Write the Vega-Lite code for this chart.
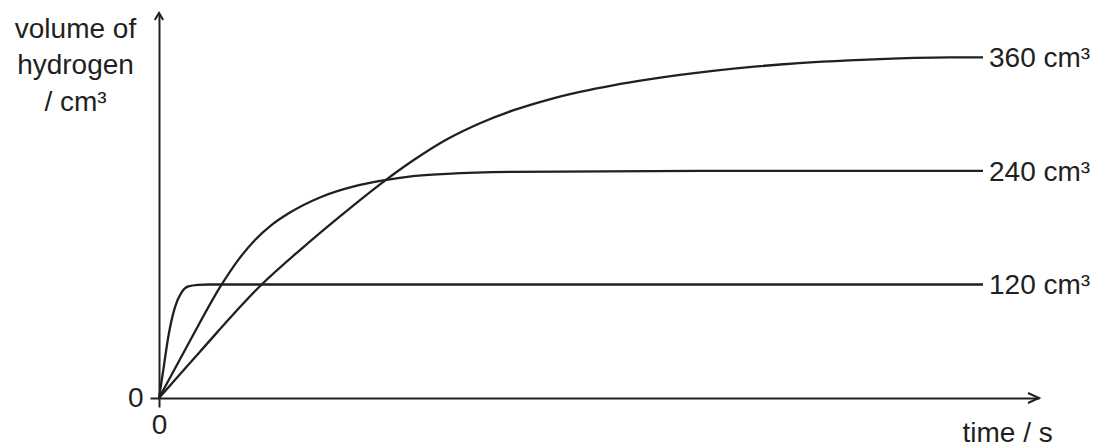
{
  "$schema": "https://vega.github.io/schema/vega-lite/v6.json",
  "description": "Volume of hydrogen against time for three reactions",
  "width": 880,
  "height": 385,
  "autosize": {"type": "none"},
  "padding": {"left": 159, "top": 13, "right": 61, "bottom": 49},
  "config": {
    "view": {"stroke": null},
    "font": "Liberation Sans",
    "axis": {
      "grid": false,
      "domainColor": "#231f20",
      "domainWidth": 2,
      "tickColor": "#231f20",
      "tickWidth": 2,
      "tickSize": 9,
      "labelColor": "#231f20",
      "labelFontSize": 28,
      "labelFont": "Liberation Sans",
      "labelFlush": false,
      "titleColor": "#231f20",
      "titleFontSize": 28,
      "titleFont": "Liberation Sans",
      "titleFontWeight": "normal"
    }
  },
  "datasets": {
    "curves": [
      {"series": "120", "t": 0, "v": 0},
      {"series": "120", "t": 4.3, "v": 29.6},
      {"series": "120", "t": 9.3, "v": 64.8},
      {"series": "120", "t": 16, "v": 96},
      {"series": "120", "t": 22.7, "v": 112},
      {"series": "120", "t": 29.3, "v": 118},
      {"series": "120", "t": 39.3, "v": 119.6},
      {"series": "120", "t": 50, "v": 120},
      {"series": "120", "t": 824, "v": 120},
      {"series": "240", "t": 0, "v": 0},
      {"series": "240", "t": 31, "v": 60.5},
      {"series": "240", "t": 62.7, "v": 120},
      {"series": "240", "t": 79.3, "v": 146},
      {"series": "240", "t": 96, "v": 167},
      {"series": "240", "t": 112.7, "v": 183},
      {"series": "240", "t": 129.3, "v": 195},
      {"series": "240", "t": 162.7, "v": 212.8},
      {"series": "240", "t": 196, "v": 224},
      {"series": "240", "t": 222.7, "v": 229.7},
      {"series": "240", "t": 254, "v": 234.5},
      {"series": "240", "t": 288, "v": 237},
      {"series": "240", "t": 354, "v": 239},
      {"series": "240", "t": 541, "v": 240},
      {"series": "240", "t": 824, "v": 240},
      {"series": "360", "t": 0, "v": 0},
      {"series": "360", "t": 41, "v": 49},
      {"series": "360", "t": 102.7, "v": 120},
      {"series": "360", "t": 141, "v": 156.4},
      {"series": "360", "t": 181, "v": 192},
      {"series": "360", "t": 226, "v": 229.8},
      {"series": "360", "t": 254, "v": 251},
      {"series": "360", "t": 288, "v": 273.5},
      {"series": "360", "t": 321, "v": 290.5},
      {"series": "360", "t": 354, "v": 304},
      {"series": "360", "t": 388, "v": 315},
      {"series": "360", "t": 421, "v": 323.5},
      {"series": "360", "t": 454, "v": 330.5},
      {"series": "360", "t": 488, "v": 336.5},
      {"series": "360", "t": 521, "v": 341.5},
      {"series": "360", "t": 554, "v": 345.8},
      {"series": "360", "t": 598, "v": 350.5},
      {"series": "360", "t": 640, "v": 354},
      {"series": "360", "t": 690, "v": 357},
      {"series": "360", "t": 740, "v": 359},
      {"series": "360", "t": 790, "v": 360},
      {"series": "360", "t": 824, "v": 360}
    ],
    "labels": [
      {"label": "120 cm³", "t": 824, "v": 120},
      {"label": "240 cm³", "t": 824, "v": 240},
      {"label": "360 cm³", "t": 824, "v": 360}
    ],
    "arrows": [
      {"axis": "y", "t": 0, "v": 407},
      {"axis": "x", "t": 880, "v": 0}
    ]
  },
  "layer": [
    {
      "data": {"name": "curves"},
      "mark": {"type": "line", "interpolate": "monotone", "color": "#231f20", "strokeWidth": 2.3},
      "encoding": {
        "x": {
          "field": "t",
          "type": "quantitative",
          "scale": {"domain": [0, 880], "nice": false, "zero": true},
          "axis": {
            "values": [0],
            "labelPadding": 4,
            "labelAlign": "center",
            "title": "time / s",
            "titleAlign": "left",
            "titleAnchor": "start",
            "titleX": 803,
            "titleY": 43,
            "titleBaseline": "alphabetic"
          }
        },
        "y": {
          "field": "v",
          "type": "quantitative",
          "scale": {"domain": [0, 407], "nice": false},
          "axis": {
            "values": [0],
            "labelPadding": 7,
            "labelBaseline": "middle",
            "title": ["volume of", "hydrogen", "/ cm³"],
            "titleAngle": 0,
            "titleAlign": "center",
            "titleX": -84,
            "titleY": 24,
            "titleBaseline": "alphabetic",
            "titleLineHeight": 36.7
          }
        },
        "detail": {"field": "series", "type": "nominal"}
      }
    },
    {
      "data": {"name": "labels"},
      "mark": {"type": "text", "align": "left", "baseline": "alphabetic", "dx": 6, "dy": 10, "fontSize": 28, "color": "#231f20"},
      "encoding": {
        "x": {"field": "t", "type": "quantitative"},
        "y": {"field": "v", "type": "quantitative"},
        "text": {"field": "label"}
      }
    },
    {
      "data": {"name": "arrows"},
      "mark": {"type": "point", "filled": false, "strokeWidth": 2, "color": "#231f20", "opacity": 1, "size": 100},
      "encoding": {
        "x": {"field": "t", "type": "quantitative"},
        "y": {"field": "v", "type": "quantitative"},
        "shape": {
          "field": "axis",
          "type": "nominal",
          "scale": {"domain": ["y", "x"], "range": ["M-0.85,1.4L0,0L0.85,1.4", "M-2.2,-1L0,0L-2.2,1"]},
          "legend": null
        }
      }
    }
  ]
}
